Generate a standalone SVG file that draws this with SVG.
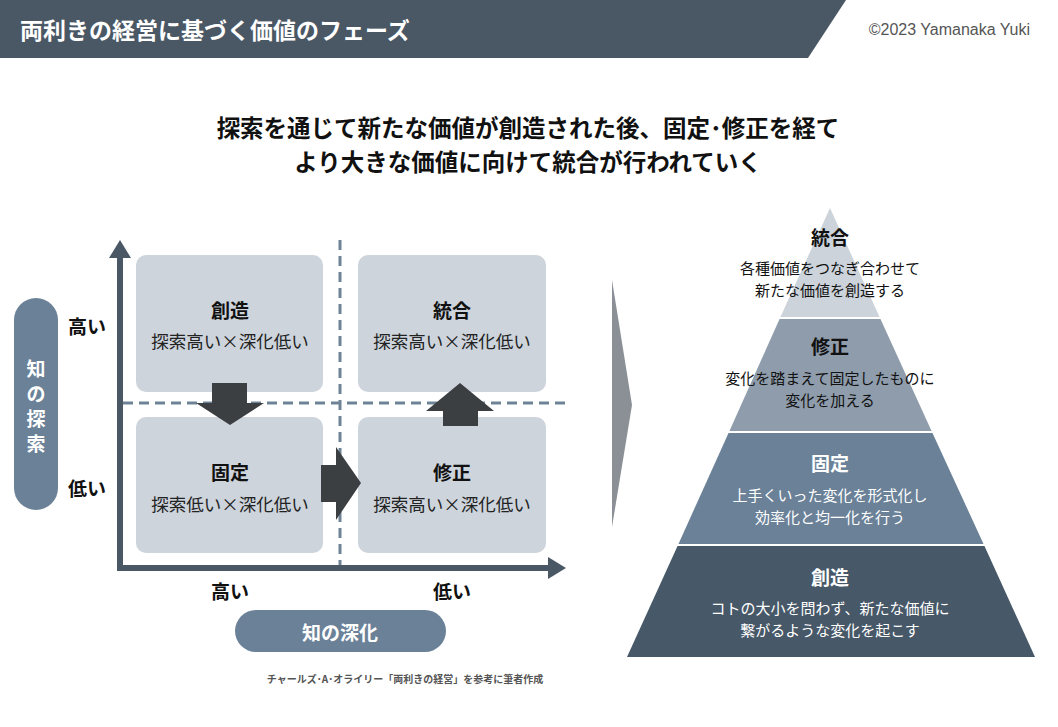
<svg xmlns="http://www.w3.org/2000/svg" width="1058" height="727" viewBox="0 0 1058 727">
<style>
text{font-family:"Noto Sans CJK JP","Liberation Sans",sans-serif;text-anchor:middle;dominant-baseline:central}
.b{font-weight:bold}
.box{fill:#cdd4dc}
.t{font-size:19px;font-weight:bold;fill:#111}
.s{font-size:17.5px;fill:#222}
.p{font-size:15px}
.ax{fill:#4a5866}
.dash{stroke:#6f8396;stroke-width:3;stroke-dasharray:10 6;fill:none}
.dark{fill:#3b3f42}
</style>
<rect width="1058" height="727" fill="#fff"/>
<g id="header">
<polygon points="0,0 846,0 808,58 0,58" fill="#4a5866"/>
<text x="20" y="29" style="text-anchor:start;font-size:23px;fill:#fff" class="b">両利きの経営に基づく価値のフェーズ</text>
<text x="1030" y="29" style="text-anchor:end;font-size:16px;fill:#555;font-family:'Liberation Sans','Noto Sans CJK JP',sans-serif">©2023 Yamanaka Yuki</text>
</g>
<g id="heading">
<text x="528" y="127" class="b" style="font-size:23.5px;fill:#111">探索を通じて新たな価値が創造された後、固定･修正を経て</text>
<text x="528" y="161" class="b" style="font-size:23.5px;fill:#111">より大きな価値に向けて統合が行われていく</text>
</g>
<g id="axes">
<rect x="117" y="255" width="6" height="316" class="ax"/>
<polygon points="109,258 120,240 131,258" class="ax"/>
<rect x="117" y="565" width="433" height="6" class="ax"/>
<polygon points="548,557 566,568 548,579" class="ax"/>
<line x1="340" y1="240" x2="340" y2="565" class="dash"/>
<line x1="123" y1="403" x2="566" y2="403" class="dash"/>
</g>
<g id="n-souzou"><rect x="136" y="255" width="187" height="137" rx="10" class="box"/><text x="230" y="309" class="t">創造</text><text x="230" y="340" class="s">探索高い×深化低い</text></g>
<g id="n-tougou"><rect x="358" y="255" width="188" height="137" rx="10" class="box"/><text x="452" y="309" class="t">統合</text><text x="452" y="340" class="s">探索高い×深化低い</text></g>
<g id="n-kotei"><rect x="136" y="417" width="187" height="136" rx="10" class="box"/><text x="230" y="471" class="t">固定</text><text x="230" y="503" class="s">探索低い×深化低い</text></g>
<g id="n-shusei"><rect x="358" y="417" width="188" height="136" rx="10" class="box"/><text x="452" y="471" class="t">修正</text><text x="452" y="503" class="s">探索高い×深化低い</text></g>
<g id="connectors">
<polygon points="212,383 247,383 247,403 264,403 230,425 196,403 212,403" class="dark"/>
<polygon points="443,426 478,426 478,411 494,411 460,383 426,411 443,411" class="dark"/>
<polygon points="321,465 336,465 336,447 361,483 336,520 336,502 321,502" class="dark"/>
</g>
<g id="labels">
<rect x="14" y="298" width="44" height="212" rx="22" fill="#6a8198"/>
<text x="36" y="367" class="b" style="font-size:19px;fill:#fff">知</text>
<text x="36" y="392" class="b" style="font-size:19px;fill:#fff">の</text>
<text x="36" y="417" class="b" style="font-size:19px;fill:#fff">探</text>
<text x="36" y="442" class="b" style="font-size:19px;fill:#fff">索</text>
<text x="87" y="325" class="b" style="font-size:19px;fill:#111">高い</text>
<text x="87" y="487" class="b" style="font-size:19px;fill:#111">低い</text>
<text x="230" y="590" class="b" style="font-size:19px;fill:#111">高い</text>
<text x="452" y="590" class="b" style="font-size:19px;fill:#111">低い</text>
<rect x="235" y="610" width="211" height="42" rx="21" fill="#6a8198"/>
<text x="340" y="631" class="b" style="font-size:19px;fill:#fff">知の深化</text>
<text x="405" y="678" class="b" style="font-size:10px;fill:#555">チャールズ･A･オライリー「両利きの経営」を参考に筆者作成</text>
</g>
<polygon id="chevron" points="612,280 632,405 612,527" fill="#8a9096"/>
<g id="pyramid">
<polygon points="830,208 880,318 780,318" fill="#ccd3da"/>
<polygon points="780,318 880,318 932,432 729,432" fill="#8e9cab"/>
<polygon points="729,432 932,432 984,545 678,545" fill="#6a8198"/>
<polygon points="678,545 984,545 1035,657 627,657" fill="#475868"/>
<line x1="770" y1="318" x2="890" y2="318" stroke="#fff" stroke-width="2"/>
<line x1="720" y1="432" x2="940" y2="432" stroke="#fff" stroke-width="2"/>
<line x1="670" y1="545" x2="992" y2="545" stroke="#fff" stroke-width="2"/>
<text x="830" y="236" class="t">統合</text>
<text x="830" y="267" class="p" fill="#111">各種価値をつなぎ合わせて</text>
<text x="830" y="289" class="p" fill="#111">新たな価値を創造する</text>
<text x="830" y="345" class="t">修正</text>
<text x="830" y="377" class="p" fill="#111">変化を踏まえて固定したものに</text>
<text x="830" y="399" class="p" fill="#111">変化を加える</text>
<text x="830" y="462" class="t" style="fill:#fff">固定</text>
<text x="830" y="494" class="p" fill="#fff">上手くいった変化を形式化し</text>
<text x="830" y="516" class="p" fill="#fff">効率化と均一化を行う</text>
<text x="830" y="576" class="t" style="fill:#fff">創造</text>
<text x="830" y="607" class="p" fill="#fff">コトの大小を問わず、新たな価値に</text>
<text x="830" y="629" class="p" fill="#fff">繋がるような変化を起こす</text>
</g>
</svg>
